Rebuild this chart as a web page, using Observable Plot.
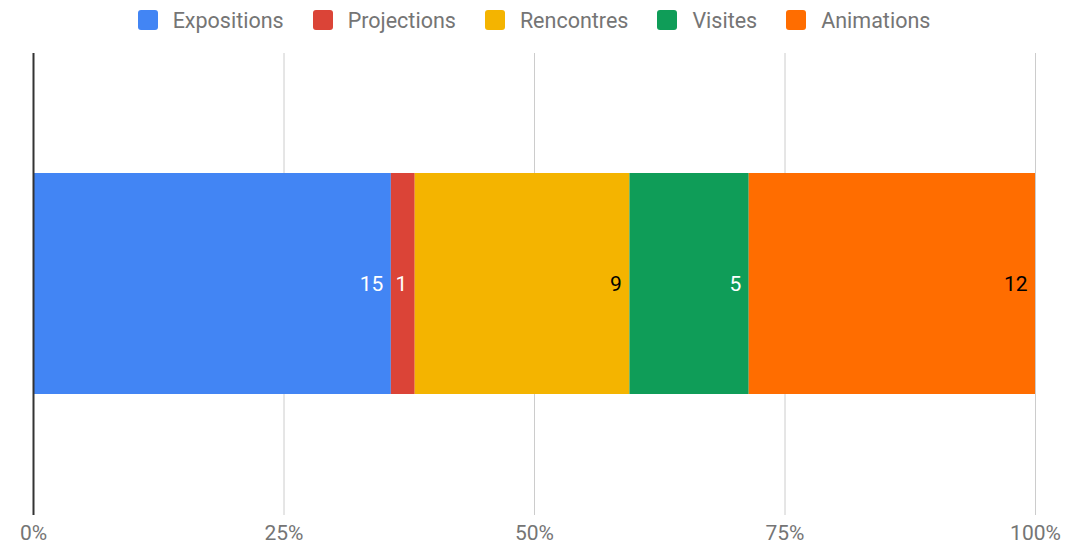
<!DOCTYPE html>
<html>
<head>
<meta charset="utf-8">
<script src="https://cdn.jsdelivr.net/npm/d3@7"></script>
<script src="https://cdn.jsdelivr.net/npm/@observablehq/plot@0.6"></script>
<style>
  html, body { margin: 0; padding: 0; background: #fff; }
  body { width: 1080px; height: 546px; overflow: hidden; font-family: Roboto, "Noto Sans", sans-serif; }
  #legend { height: 40px; display: flex; justify-content: center; align-items: center; padding-right: 12px; box-sizing: border-box; }
  .item { display: flex; align-items: center; margin-right: 29px; color: #757575; font-size: 21.5px; }
  .item:last-child { margin-right: 0; }
  .sw { width: 20px; height: 20px; border-radius: 3px; margin-right: 15px; }
  svg { display: block; }
</style>
</head>
<body>
<div id="legend"></div>
<div id="chart"></div>
<script>
const categories = ["Expositions", "Projections", "Rencontres", "Visites", "Animations"];
const values = [15, 1, 9, 5, 12];
const colors = ["#4285F4", "#DB4437", "#F4B400", "#0F9D58", "#FF6D00"];
const labelColors = ["white", "white", "black", "white", "black"];
const tickValues = [0, 0.25, 0.5, 0.75, 1];
const tickLabels = ["0%", "25%", "50%", "75%", "100%"];

const data = categories.map((c, i) => ({category: c, value: values[i], row: "row", labelColor: labelColors[i]}));

const legend = document.getElementById("legend");
categories.forEach((c, i) => {
  const item = document.createElement("div");
  item.className = "item";
  const sw = document.createElement("div");
  sw.className = "sw";
  sw.style.background = colors[i];
  const t = document.createElement("span");
  t.textContent = c;
  item.appendChild(sw);
  item.appendChild(t);
  legend.appendChild(item);
});

const chart = Plot.plot({
  width: 1080,
  height: 506,
  marginLeft: 33,
  marginRight: 45,
  marginTop: 13,
  marginBottom: 31,
  style: {fontFamily: "Roboto, sans-serif", background: "white"},
  x: {domain: [0, 1], ticks: tickValues, tickFormat: (d) => tickLabels[tickValues.indexOf(d)], tickSize: 0, label: null},
  y: {domain: ["row"], padding: 0.351, axis: null},
  color: {domain: categories, range: colors},
  marks: [
    Plot.ruleX(tickValues.slice(1), {stroke: "#cccccc", strokeWidth: 1}),
    Plot.barX(data, Plot.stackX({x: "value", y: "row", fill: "category", order: null, offset: "normalize"})),
    Plot.textX(data, Plot.stackX2({x: "value", y: "row", order: null, offset: "normalize", text: (d) => String(d.value), fill: "labelColor", textAnchor: "end", dx: -8, fontSize: 21})),
    Plot.ruleX([0], {stroke: "#333333", strokeWidth: 2}),
    Plot.axisX({ticks: tickValues, tickFormat: (d) => tickLabels[tickValues.indexOf(d)], tickSize: 0, tickPadding: 10, fontSize: 21, fill: "#757575", label: null})
  ]
});
document.getElementById("chart").appendChild(chart);
</script>
</body>
</html>
